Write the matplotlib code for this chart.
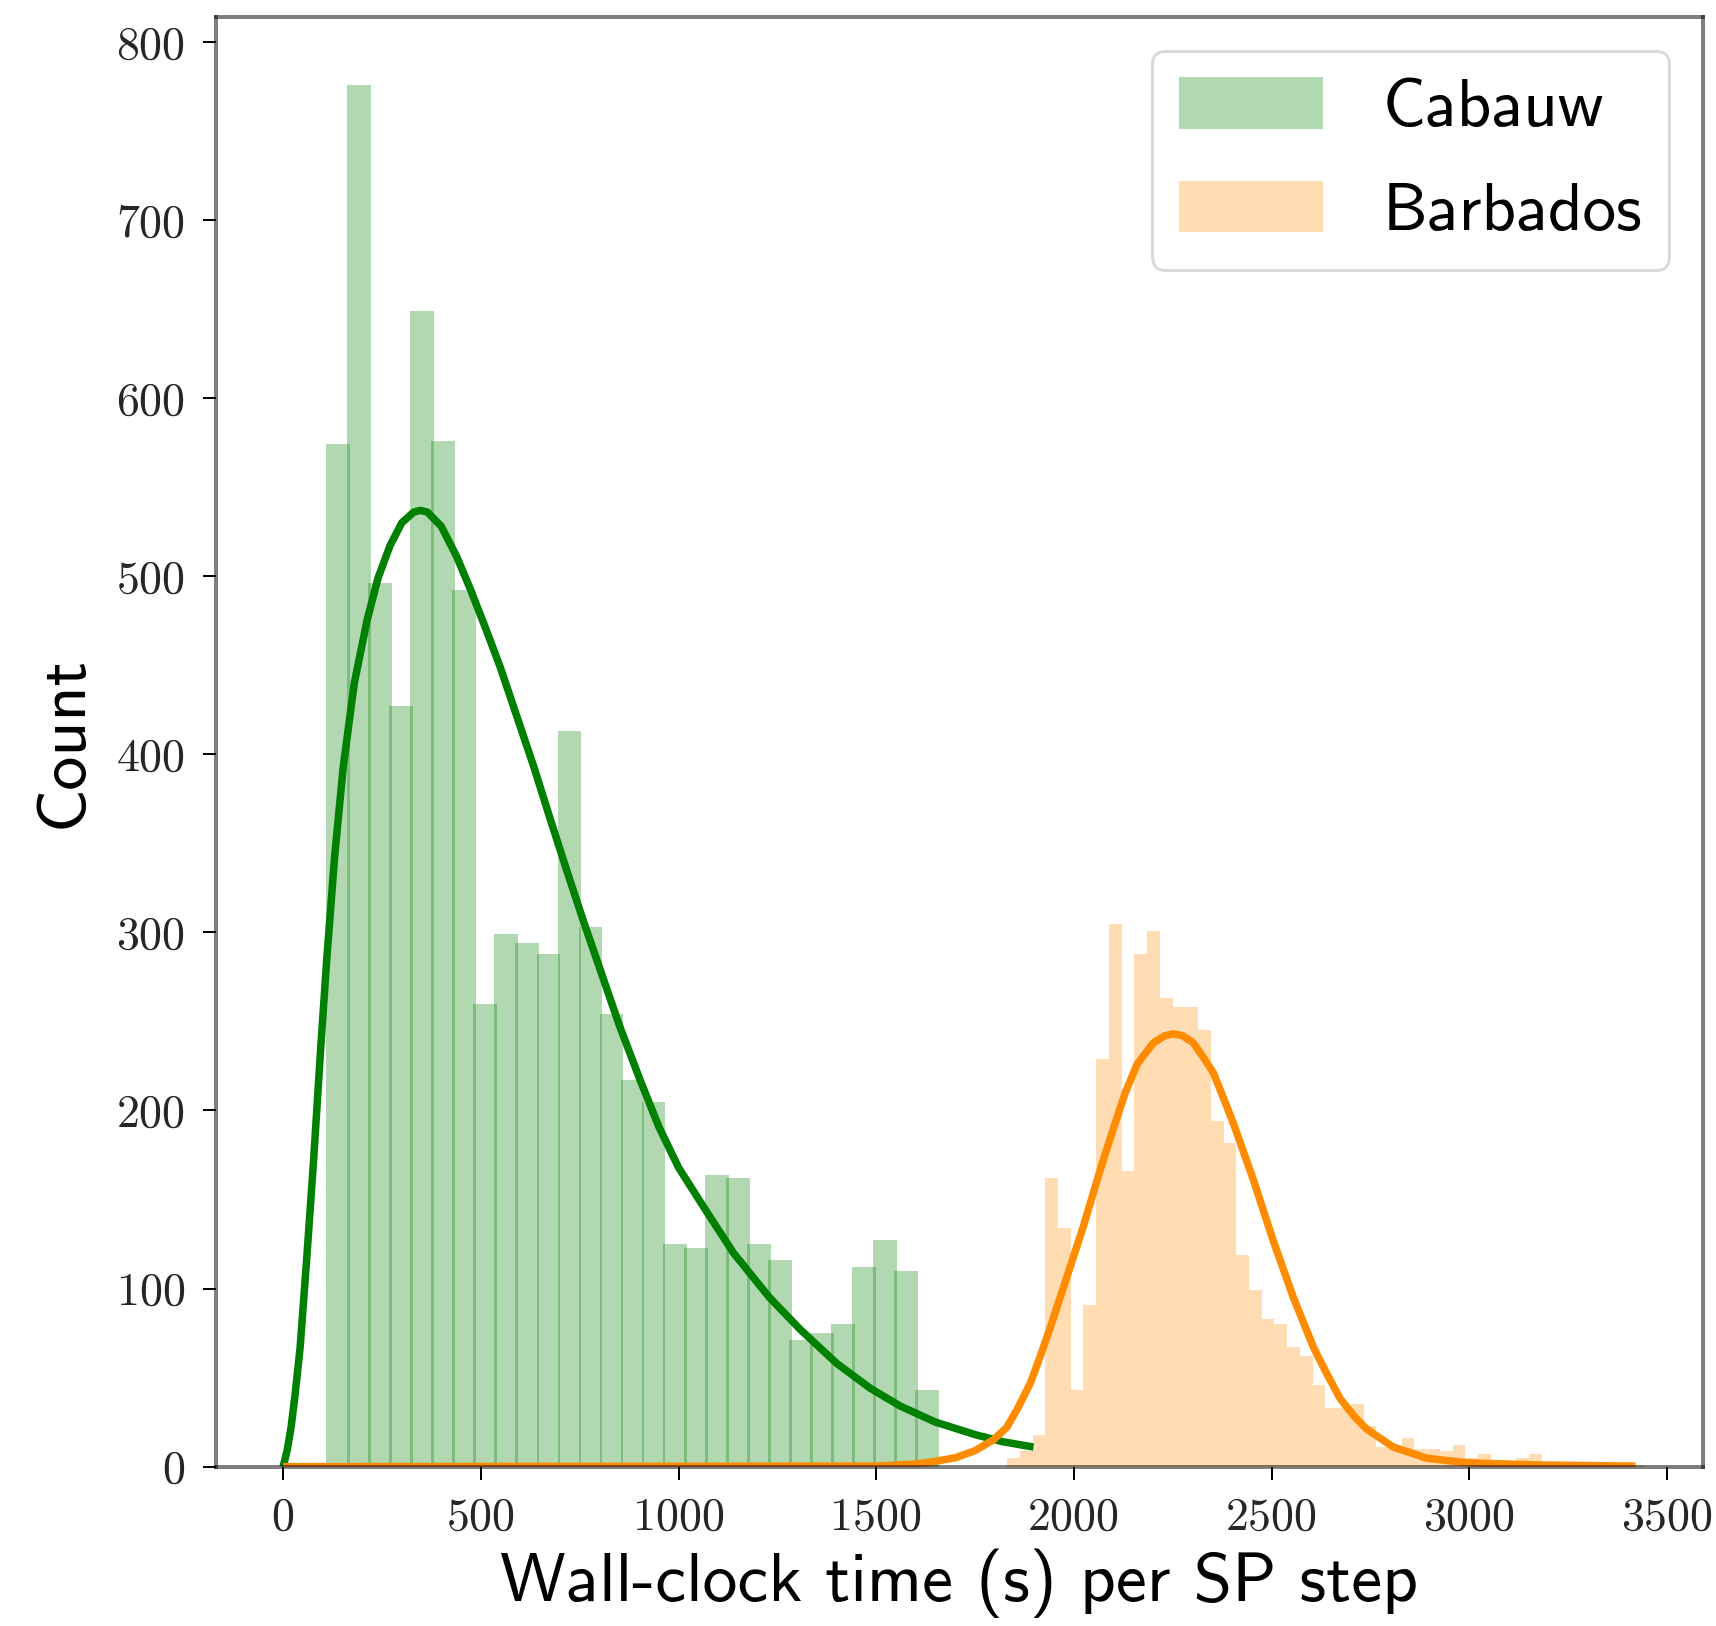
import matplotlib
matplotlib.use("Agg")
import matplotlib.pyplot as plt

# ---------------- data ----------------
green_label = "Cabauw"
orange_label = "Barbados"

# Cabauw histogram: 29 bins starting at 108.8 s, width 53.2 s
green_bin_start = 108.8
green_bin_width = 53.2
green_counts = [574, 776, 496, 427, 649, 576, 492, 260, 299, 294, 288, 413,
                303, 254, 217, 205, 125, 123, 164, 162, 125, 116, 71, 75,
                80, 112, 127, 110, 43]

# Barbados histogram: 50 bins starting at 1831 s, width 32.2 s
orange_bin_start = 1831.0
orange_bin_width = 32.2
orange_counts = [5, 9, 18, 162, 134, 43, 91, 229, 305, 166,
                 288, 301, 263, 258, 258, 245, 194, 182, 119, 99,
                 83, 80, 67, 62, 46, 33, 33, 35, 23, 11,
                 11, 16, 10, 10, 9, 12, 5, 7, 2, 2,
                 5, 7, 2, 2, 1, 1, 1, 1, 1, 1]

# fitted curves
green_curve_x = [0, 10, 20, 30, 43, 60, 77, 95, 110, 130, 152, 180, 212, 240,
                 270, 300, 330, 347, 365, 400, 439, 473, 510, 549, 590, 634,
                 675, 717, 760, 802, 850, 903, 950, 1000, 1063, 1139, 1230,
                 1308, 1400, 1485, 1561, 1650, 1750, 1820, 1898]
green_curve_y = [0, 9, 22, 40, 67, 118, 172, 235, 284, 342, 393, 440, 475, 499,
                 517, 530, 536, 537, 536, 528, 511, 493, 472, 449, 422, 393,
                 364, 335, 306, 279, 248, 217, 191, 168, 146, 120, 95,
                 77, 58, 44, 34, 25, 18, 14, 11]

orange_curve_x = [0, 1500, 1600, 1645, 1700, 1750, 1796, 1830, 1856, 1890,
                  1915, 1940, 1980, 2024, 2067, 2100, 2130, 2160, 2201, 2230,
                  2252, 2275, 2302, 2330, 2353, 2380, 2403, 2454, 2504, 2555,
                  2606, 2640, 2674, 2710, 2741, 2808, 2893, 2994, 3162, 3420]
orange_curve_y = [0, 0.3, 1.5, 2.8, 5, 9, 15, 22, 32, 47,
                  62, 78, 105, 135, 167, 190, 210, 226, 238, 242,
                  243, 242, 238, 229, 221, 206, 193, 161, 127, 95,
                  67, 52, 38, 28, 21, 11, 4.7, 2.2, 1, 0.3]

x_ticks = [0, 500, 1000, 1500, 2000, 2500, 3000, 3500]
y_ticks = [0, 100, 200, 300, 400, 500, 600, 700, 800]
x_label = "Wall-clock time (s) per SP step"
y_label = "Count"

# ---------------- styling ----------------
DPI = 100
PT = 72.0 / DPI  # points per pixel
plt.rcParams["axes.unicode_minus"] = False

fig = plt.figure(figsize=(1716 / DPI, 1626 / DPI), dpi=DPI)
ax = fig.add_axes([0.1256, 0.098, 0.9924 - 0.1256, 0.9895 - 0.098])

green_x = [green_bin_start + i * green_bin_width for i in range(len(green_counts))]
orange_x = [orange_bin_start + i * orange_bin_width for i in range(len(orange_counts))]

ax.bar(green_x, green_counts, width=green_bin_width + 7, align="edge",
       color="green", alpha=0.3, linewidth=0, label=green_label, zorder=1)
ax.plot(green_curve_x, green_curve_y, color="green", lw=7.5 * PT, zorder=2,
        solid_capstyle="butt", solid_joinstyle="round")
ax.bar(orange_x, orange_counts, width=orange_bin_width, align="edge",
       color="darkorange", alpha=0.3, linewidth=0, label=orange_label, zorder=3)
ax.plot(orange_curve_x, orange_curve_y, color="darkorange", lw=7.5 * PT, zorder=4,
        solid_capstyle="butt", solid_joinstyle="round")

ax.set_xlim(-171, 3591)
ax.set_ylim(0, 814)
ax.set_xticks(x_ticks)
ax.set_yticks(y_ticks)

for sp in ax.spines.values():
    sp.set_color((0, 0, 0, 0.5))
    sp.set_linewidth(4 * PT)
    sp.set_zorder(5)

ax.tick_params(axis="both", length=13 * PT, width=2 * PT, pad=17 * PT,
               colors="black", labelcolor="#262626", labelsize=46 * PT)
for lab in ax.get_xticklabels() + ax.get_yticklabels():
    lab.set_fontfamily("cmr10")

ax.set_xlabel(x_label, fontfamily="cmss10", fontsize=69.5 * PT, labelpad=10 * PT)
ax.set_ylabel(y_label, fontfamily="cmss10", fontsize=68 * PT, labelpad=22 * PT)

leg = ax.legend(loc="upper right", prop={"family": "cmss10", "size": 67 * PT},
                handlelength=2.15, handleheight=0.8, handletextpad=0.9,
                labelspacing=0.62, borderaxespad=0.5, framealpha=0.8)
leg.get_frame().set_edgecolor("0.82")
leg.get_frame().set_linewidth(3 * PT)

fig.savefig("out.png", dpi=DPI)
